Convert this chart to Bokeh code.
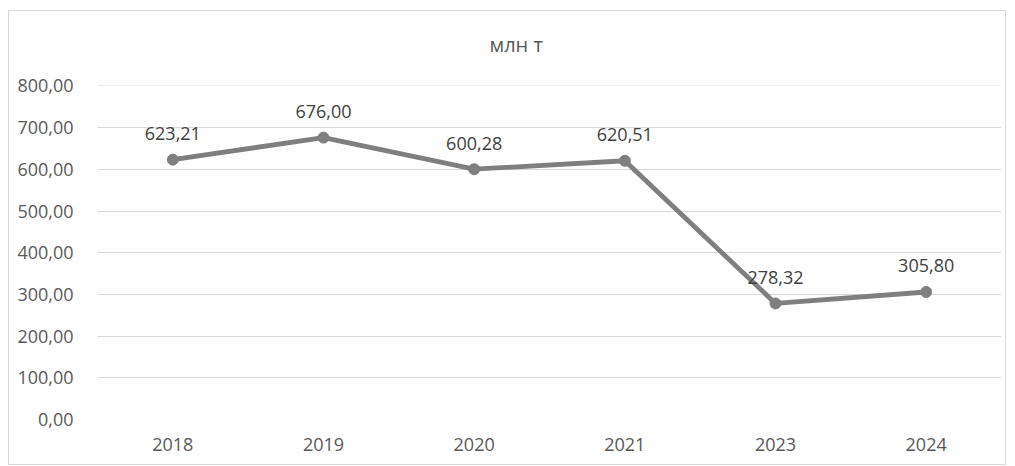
from bokeh.plotting import figure
from bokeh.models import ColumnDataSource, FixedTicker, LabelSet, Title
from bokeh.core.properties import value
from bokeh.embed import file_html
from bokeh.resources import INLINE

years = ["2018", "2019", "2020", "2021", "2023", "2024"]
values = [623.21, 676.00, 600.28, 620.51, 278.32, 305.80]
y_ticks = [0, 100, 200, 300, 400, 500, 600, 700, 800]
title_text = "млн т"

def fmt(v):
    return f"{v:.2f}".replace(".", ",")

FONT = "Open Sans"

src = ColumnDataSource(dict(x=years, y=values, lab=[fmt(v) for v in values]))

p = figure(x_range=years, y_range=(0, 801), width=998, height=455,
           output_backend="svg", toolbar_location=None,
           min_border_left=88, min_border_right=6, min_border_top=74, min_border_bottom=47)
p.styles = {"border": "1px solid #d9d9d9", "margin-left": "8px", "margin-top": "10px"}
p.outline_line_color = None
p.background_fill_color = "white"
p.border_fill_color = "white"

p.title.text = title_text
p.title.align = "left"
p.title.offset = 392
p.title.standoff = 10
p.title.text_font = FONT
p.title.text_font_size = "20px"
p.title.text_font_style = "normal"
p.title.text_color = "#595959"

spacer = Title(text=" ", text_font_size="1px", standoff=20)
p.add_layout(spacer, "above")

p.xgrid.grid_line_color = None
p.ygrid.grid_line_color = "#d9d9d9"
p.ygrid.grid_line_width = 1

p.yaxis.ticker = FixedTicker(ticks=y_ticks)
p.yaxis.major_label_overrides = {t: fmt(t) for t in y_ticks}
for ax in (p.xaxis, p.yaxis):
    ax.axis_line_color = None
    ax.major_tick_line_color = None
    ax.minor_tick_line_color = None
    ax.major_label_text_font = FONT
    ax.major_label_text_font_size = "18px"
    ax.major_label_text_color = "#595959"
p.yaxis.major_label_standoff = 18
p.xaxis.major_label_standoff = 12
p.x_range.range_padding = 0

p.line("x", "y", source=src, line_color="#7f7f7f", line_width=4.8)
p.scatter("x", "y", source=src, size=11, fill_color="#7f7f7f", line_color="#7f7f7f")

labels = LabelSet(x="x", y="y", text="lab", source=src, y_offset=26,
                  text_align="center", text_baseline="middle",
                  text_font=value(FONT), text_font_size="18px", text_color="#404040")
p.add_layout(labels)

open("out.html", "w").write(file_html(p, INLINE))
